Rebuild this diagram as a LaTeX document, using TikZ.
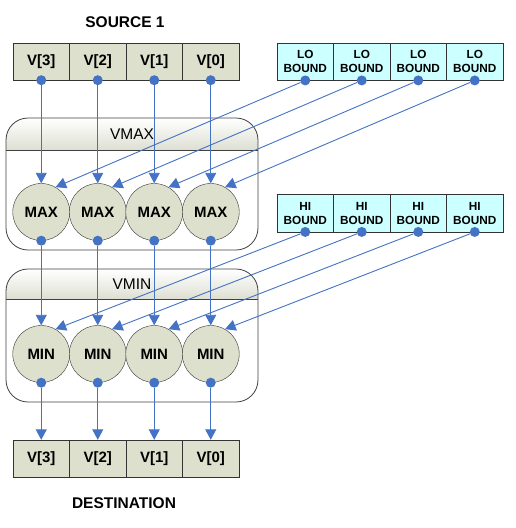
\documentclass[tikz,border=0pt]{standalone}
\usepackage{fontspec}
\setmainfont{Liberation Sans}
\usetikzlibrary{arrows.meta}
\definecolor{lnblue}{RGB}{68,114,196}
\definecolor{boxgray}{RGB}{221,224,205}
\definecolor{hdrgray}{RGB}{222,223,210}
\definecolor{boundcyan}{RGB}{204,255,255}
\begin{document}
\begin{tikzpicture}[x=1pt,y=-1pt,
 vbox/.style={draw=black!80, fill=boxgray, minimum width=56.5pt, minimum height=37pt, inner sep=0pt, font=\fontsize{15}{18}\selectfont\bfseries},
 bbox/.style={draw=black!80, fill=boundcyan, minimum width=56.5pt, minimum height=37.5pt, inner sep=0pt, align=center, font=\fontsize{11.8}{14}\selectfont\bfseries},
 opc/.style={circle, draw=black!80, fill=boxgray, minimum size=57pt, inner sep=0pt, font=\fontsize{15}{18}\selectfont\bfseries},
 dot/.style={circle, fill=lnblue, minimum size=10pt, inner sep=0pt},
 arr/.style={draw=lnblue, line width=0.9pt, -{Triangle[length=10.5pt,width=11pt]}},
 cont/.style={draw=black!75, line width=0.8pt, rounded corners=22pt},
 title/.style={font=\fontsize{15.5}{18}\selectfont\bfseries},
 hdr/.style={font=\fontsize{15.5}{18}\selectfont}
]
\useasboundingbox (0,0) rectangle (515,528);

% containers
\foreach \top/\hl/\bot/\nm/\ly in {118/150/250/vmax/134, 269/299/402/vmin/284}{
  \fill[white, rounded corners=22pt] (6,\top) rectangle (258,\bot);
  \begin{scope}
    \clip[rounded corners=22pt] (6,\top) rectangle (258,\bot);
    \shade[top color=white, bottom color=hdrgray] (6,\top) rectangle (258,\hl);
  \end{scope}
  \draw[cont] (6,\top) rectangle (258,\bot);
  \draw[black!75, line width=0.8pt] (6,\hl) -- (258,\hl);
}
\node[hdr] (vmaxlbl) at (132,134) {VMAX};
\node[hdr] (vminlbl) at (132,284) {VMIN};

% titles
\node[title] (srct) at (125,22) {SOURCE 1};
\node[title] (dstt) at (124,503) {DESTINATION};

% vectors, ops, bounds
\foreach \i/\x/\t in {1/41.25/V[3],2/97.75/V[2],3/154.25/V[1],4/210.75/V[0]}{
  \node[vbox] (s\i) at (\x,61.5) {\t};
  \node[vbox] (d\i) at (\x,458.5) {\t};
  \node[opc] (mx\i) at (\x,212) {MAX};
  \node[opc] (mn\i) at (\x,354) {MIN};
  \node[dot] (sd\i) at (s\i.south) {};
  \node[dot] (mxd\i) at (mx\i.south) {};
  \node[dot] (mnd\i) at (mn\i.south) {};
}
\foreach \i/\x in {1/305.25,2/361.75,3/418.25,4/474.75}{
  \node[bbox] (lo\i) at (\x,61.5) {LO\\BOUND};
  \node[bbox] (hi\i) at (\x,213) {HI\\BOUND};
  \node[dot] (lod\i) at (lo\i.south) {};
  \node[dot] (hid\i) at (hi\i.south) {};
}

% connectors
\foreach \i in {1,2,3,4}{
  \draw[arr] (sd\i) -- (mx\i);
  \draw[arr] (mxd\i) -- (mn\i);
  \draw[arr] (mnd\i) -- (d\i);
  \draw[arr] (lod\i) -- (mx\i.60);
  \draw[arr] (hid\i) -- (mn\i.60);
}
\end{tikzpicture}
\end{document}
